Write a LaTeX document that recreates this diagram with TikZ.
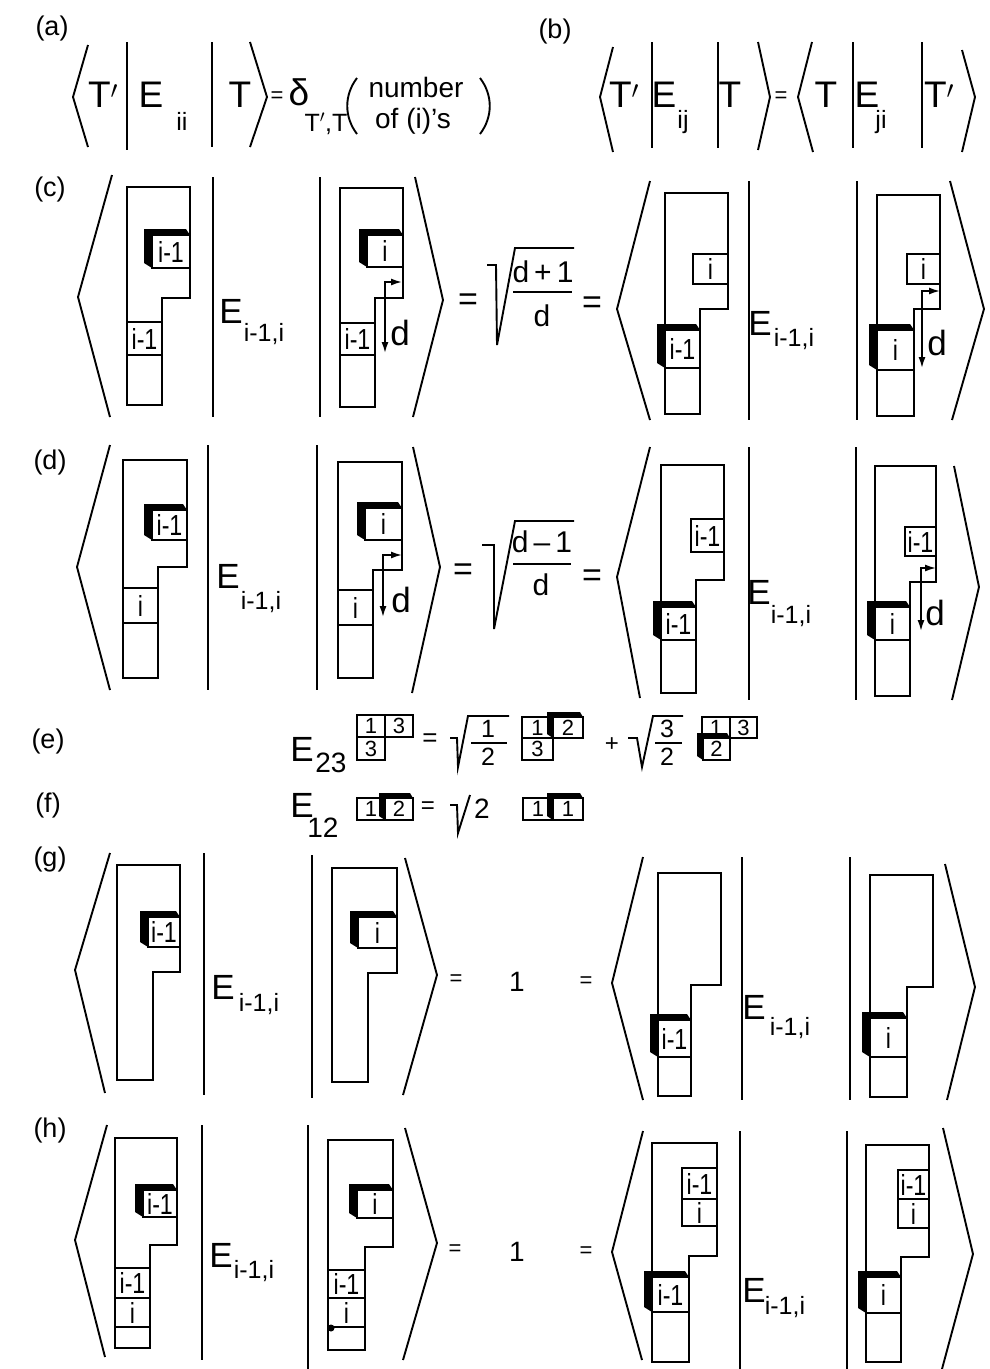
\documentclass[tikz,border=0pt]{standalone}
\usepackage{fontspec}
\setmainfont{Liberation Sans}
\newfontfamily\narrowfont{Liberation Sans}[FakeStretch=0.8]
\usetikzlibrary{arrows.meta}
\newcommand{\FSz}[1]{\fontsize{#1}{#1}\selectfont}
\tikzset{
  tx/.style={inner sep=0pt, outer sep=0pt, anchor=center},
  big/.style={tx, font=\FSz{37}},
  mid/.style={tx, font=\FSz{35}},
  frac/.style={tx, font=\FSz{30}},
  sub/.style={tx, font=\FSz{25}},
  cell/.style={tx, font=\narrowfont\FSz{29}},
  cellE/.style={tx, font=\FSz{22}},
  lbl/.style={tx, font=\FSz{27}},
  eqs/.style={tx, font=\FSz{34}},
  eqsm/.style={tx, font=\FSz{22}},
  tab/.style={line width=1.8pt, line join=miter},
  ang/.style={line width=1.9pt},
  barl/.style={line width=2.1pt},
  rad/.style={line width=1.9pt, line join=miter},
  arr/.style={line width=1.6pt, {Latex[length=11pt,width=7pt]}-{Latex[length=11pt,width=7pt]}}
}
% highlighted (raised) cell: name, L, T, R, B, text
\newcommand{\HL}[6]{%
  \fill[black] (#2,#5) -- (#2-8,#5-5) -- (#2-8,#3-6) -- (#4-4,#3-6) -- (#4,#3) -- (#2,#3) -- cycle;
  \draw[tab] (#2,#3) rectangle (#4,#5);
  \node[cell] (#1) at ({(#2+#4)/2},{(#3+#5)/2}) {#6};}
\newcommand{\HLs}[6]{%
  \fill[black] (#2,#5) -- (#2-6,#5-4) -- (#2-6,#3-5) -- (#4-3,#3-5) -- (#4,#3) -- (#2,#3) -- cycle;
  \draw[tab] (#2,#3) rectangle (#4,#5);
  \node[cellE] (#1) at ({(#2+#4)/2},{(#3+#5)/2}) {#6};}
% plain cell: name, L, T, R, B, text, style
\newcommand{\CL}[7]{%
  \draw[tab] (#2,#3) rectangle (#4,#5);
  \node[#7] (#1) at ({(#2+#4)/2},{(#3+#5)/2}) {#6};}
% tableau outline: L, T, R, step y, step x, B
\newcommand{\TAB}[6]{\draw[tab] (#1,#2) -- (#3,#2) -- (#3,#4) -- (#5,#4) -- (#5,#6) -- (#1,#6) -- cycle;}
\begin{document}
\begin{tikzpicture}[x=1pt,y=-1pt]
\fill[white] (0,0) rectangle (990,1369);
\useasboundingbox (0,0) rectangle (990,1369);

% ---------------- (a)
\node[lbl] (la) at (52,29) {(a)};
\draw[ang] (88,45) -- (73,97) -- (88,147);
\node[big] (a1) at (103,95) {T$'$};
\draw[barl] (127,42) -- (127,150);
\node[big] (a2) at (151,95) {E};
\node[sub] (a3) at (182,121) {ii};
\draw[barl] (212,42) -- (212,147);
\node[big] (a4) at (240,95) {T};
\draw[ang] (250,42) -- (267,97) -- (250,147);
\node[eqsm] (a5) at (277,97) {=};
\node[big] (a6) at (299,92) {δ};
\node[sub] (a7) at (326,124) {T$'$,T};
\draw[ang] (357,78) .. controls (344,95) and (344,117) .. (357,134);
\node[tx, font=\FSz{28}] (a8) at (416,87) {number};
\node[tx, font=\FSz{28}] (a9) at (413,121) {of (i)'s};
\draw[ang] (480,78) .. controls (493,95) and (493,117) .. (480,134);

% ---------------- (b)
\node[lbl] (lb) at (555,32) {(b)};
\draw[ang] (613,47) -- (600,97) -- (613,152);
\node[big] (b1) at (624,95) {T$'$};
\draw[barl] (652,42) -- (652,148);
\node[big] (b2) at (664,95) {E};
\node[sub] (b3) at (683,122) {ij};
\draw[barl] (718,42) -- (718,148);
\node[big] (b4) at (730,95) {T};
\draw[ang] (758,42) -- (770,97) -- (758,150);
\node[eqsm] (b5) at (781,97) {=};
\draw[ang] (812,42) -- (798,97) -- (813,152);
\node[big] (b6) at (826,95) {T};
\draw[barl] (853,42) -- (853,148);
\node[big] (b7) at (867,95) {E};
\node[sub] (b8) at (881,122) {ji};
\draw[barl] (922,42) -- (922,148);
\node[big] (b9) at (939,95) {T$'$};
\draw[ang] (962,50) -- (975,97) -- (962,152);

% ---------------- (c)
\node[lbl] (lc) at (50,190) {(c)};
\draw[ang] (112,175) -- (78,297) -- (110,417);
\TAB{127}{187}{190}{298}{162}{405}
\CL{c1}{127}{322}{162}{355}{i-1}{cell}
\HL{c2}{152}{235}{190}{268}{i-1}
\draw[barl] (213,177) -- (213,417);
\node[mid] (c3) at (231,311) {E};
\node[sub] (c4) at (264,334) {i-1,i};
\draw[barl] (320,177) -- (320,417);
\TAB{340}{188}{403}{298}{375}{407}
\CL{c5}{340}{323}{375}{355}{i-1}{cell}
\HL{c6}{367}{235}{403}{267}{i}
\coordinate (c7a) at (402,282);
\coordinate (c7b) at (385,282);
\coordinate (c7c) at (385,353);
\draw[arr] (c7a) -- (c7b) -- (c7c);
\node[mid] (c8) at (400,333) {d};
\draw[ang] (415,177) -- (443,300) -- (413,417);
\node[eqs] (c9) at (468,302) {=};
\draw[rad] (487,265) -- (496,265) -- (497,345) -- (515,248) -- (574,248);
\node[frac] (c10) at (543,272) {d\,+\,1};
\draw[line width=1.8pt] (513,292) -- (572,292);
\node[frac] (c11) at (542,316) {d};
\node[eqs] (c12) at (592,305) {=};
\draw[ang] (650,181) -- (617,309) -- (650,420);
\TAB{665}{193}{728}{309}{700}{414}
\CL{c13}{693}{254}{728}{284}{i}{cell}
\HL{c14}{665}{330}{700}{368}{i-1}
\draw[barl] (749,181) -- (749,420);
\node[mid] (c15) at (760,323) {E};
\node[sub] (c16) at (794,339) {i-1,i};
\draw[barl] (857,181) -- (857,420);
\TAB{877}{195}{940}{309}{914}{416}
\CL{c17}{907}{254}{940}{284}{i}{cell}
\HL{c18}{877}{330}{914}{370}{i}
\coordinate (c19a) at (940,291);
\coordinate (c19b) at (922,291);
\coordinate (c19c) at (922,368);
\draw[arr] (c19a) -- (c19b) -- (c19c);
\node[mid] (c20) at (937,343) {d};
\draw[ang] (950,181) -- (984,309) -- (952,420);

% ---------------- (d)
\node[lbl] (ld) at (50,463) {(d)};
\draw[ang] (110,445) -- (77,567) -- (110,690);
\TAB{123}{460}{187}{567}{158}{678}
\CL{d1}{123}{588}{158}{623}{i}{cell}
\HL{d2}{152}{510}{187}{540}{i-1}
\draw[barl] (208,445) -- (208,690);
\node[mid] (d3) at (228,576) {E};
\node[sub] (d4) at (261,602) {i-1,i};
\draw[barl] (317,445) -- (317,690);
\TAB{338}{462}{402}{570}{373}{678}
\CL{d5}{338}{590}{373}{625}{i}{cell}
\HL{d6}{365}{508}{402}{540}{i}
\coordinate (d7a) at (402,555);
\coordinate (d7b) at (383,555);
\coordinate (d7c) at (383,617);
\draw[arr] (d7a) -- (d7b) -- (d7c);
\node[mid] (d8) at (401,600) {d};
\draw[ang] (413,447) -- (440,567) -- (412,693);
\node[eqs] (d9) at (463,572) {=};
\draw[rad] (482,545) -- (494,545) -- (494,629) -- (515,521) -- (574,521);
\node[frac] (d10) at (542,542) {d\,–\,1};
\draw[line width=1.8pt] (513,564) -- (571,564);
\node[frac] (d11) at (541,585) {d};
\node[eqs] (d12) at (592,578) {=};
\draw[ang] (650,447) -- (617,577) -- (640,698);
\TAB{661}{465}{724}{580}{696}{693}
\CL{d13}{691}{519}{724}{552}{i-1}{cell}
\HL{d14}{661}{607}{696}{640}{i-1}
\draw[barl] (749,447) -- (749,700);
\node[mid] (d15) at (759,592) {E};
\node[sub] (d16) at (791,616) {i-1,i};
\draw[barl] (856,447) -- (856,700);
\TAB{875}{466}{936}{582}{910}{696}
\CL{d17}{905}{527}{936}{556}{i-1}{cell}
\HL{d18}{875}{607}{910}{640}{i}
\coordinate (d19a) at (936,568);
\coordinate (d19b) at (921,568);
\coordinate (d19c) at (921,631);
\draw[arr] (d19a) -- (d19b) -- (d19c);
\node[mid] (d20) at (935,613) {d};
\draw[ang] (954,466) -- (979,587) -- (952,700);

% ---------------- (e)
\node[lbl] (le) at (48,742) {(e)};
\node[mid] (e1) at (302,749) {E};
\node[tx, font=\FSz{28}] (e2) at (331,763) {23};
\CL{e3}{357}{715}{385}{737}{1}{cellE}
\CL{e4}{385}{715}{413}{737}{3}{cellE}
\CL{e5}{357}{737}{385}{760}{3}{cellE}
\node[tx, font=\FSz{26}] (e6) at (430,740) {=};
\draw[rad] (450,738) -- (457,738) -- (458,767) -- (468,716) -- (509,716);
\node[tx, font=\FSz{25}] (e7) at (488,729) {1};
\draw[line width=1.6pt] (471,743) -- (507,743);
\node[tx, font=\FSz{25}] (e8) at (488,757) {2};
\CL{e9}{522}{717}{553}{738}{1}{cellE}
\CL{e10}{522}{738}{553}{760}{3}{cellE}
\HLs{e11}{553}{717}{583}{738}{2}
\node[tx, font=\FSz{24}] (e12) at (612,745) {+};
\draw[rad] (628,738) -- (637,738) -- (642,767) -- (653,716) -- (683,716);
\node[tx, font=\FSz{25}] (e13) at (667,729) {3};
\draw[line width=1.6pt] (655,743) -- (682,743);
\node[tx, font=\FSz{25}] (e14) at (667,757) {2};
\CL{e15}{702}{717}{730}{738}{1}{cellE}
\CL{e16}{730}{717}{757}{738}{3}{cellE}
\HLs{e17}{703}{738}{730}{760}{2}

% ---------------- (f)
\node[lbl] (lf) at (48,806) {(f)};
\node[mid] (f1) at (302,805) {E};
\node[tx, font=\FSz{28}] (f2) at (323,828) {12};
\CL{f3}{357}{798}{385}{820}{1}{cellE}
\HLs{f4}{385}{798}{413}{820}{2}
\node[tx, font=\FSz{24}] (f5) at (428,808) {=};
\draw[rad] (450,805) -- (457,805) -- (458,833) -- (470,795);
\node[tx, font=\FSz{28}] (f6) at (482,809) {2};
\CL{f7}{523}{798}{553}{820}{1}{cellE}
\HLs{f8}{553}{798}{583}{820}{1}

% ---------------- (g)
\node[lbl] (lg) at (50,860) {(g)};
\draw[ang] (110,853) -- (75,970) -- (105,1093);
\TAB{117}{865}{180}{972}{153}{1080}
\HL{g1}{148}{917}{180}{947}{i-1}
\draw[barl] (204,853) -- (204,1095);
\node[mid] (g2) at (223,987) {E};
\node[sub] (g3) at (259,1004) {i-1,i};
\draw[barl] (312,855) -- (312,1098);
\TAB{332}{868}{397}{973}{368}{1082}
\HL{g4}{358}{917}{397}{948}{i}
\draw[ang] (405,858) -- (437,975) -- (403,1095);
\node[eqsm] (g5) at (456,980) {=};
\node[tx, font=\FSz{28}] (g6) at (517,982) {1};
\node[eqsm] (g7) at (586,982) {=};
\draw[ang] (643,857) -- (612,983) -- (643,1100);
\TAB{658}{873}{721}{985}{691}{1096}
\HL{g8}{658}{1020}{691}{1057}{i-1}
\draw[barl] (742,857) -- (742,1100);
\node[mid] (g9) at (754,1007) {E};
\node[sub] (g10) at (790,1028) {i-1,i};
\draw[barl] (850,857) -- (850,1100);
\TAB{870}{875}{933}{987}{907}{1097}
\HL{g11}{870}{1018}{907}{1057}{i}
\draw[ang] (945,864) -- (975,987) -- (947,1100);

% ---------------- (h)
\node[lbl] (lh) at (50,1130) {(h)};
\draw[ang] (107,1125) -- (75,1240) -- (105,1357);
\TAB{115}{1138}{177}{1245}{150}{1348}
\CL{h1}{115}{1268}{150}{1298}{i-1}{cell}
\CL{h2}{115}{1298}{150}{1327}{i}{cell}
\HL{h3}{143}{1190}{177}{1217}{i-1}
\draw[barl] (202,1125) -- (202,1360);
\node[mid] (h4) at (221,1255) {E};
\node[sub] (h5) at (254,1271) {i-1,i};
\draw[barl] (308,1125) -- (308,1369);
\TAB{328}{1140}{393}{1247}{365}{1350}
\CL{h6}{328}{1270}{365}{1298}{i-1}{cell}
\CL{h7}{328}{1298}{365}{1327}{i}{cell}
\fill (331,1328) circle (3.5);
\HL{h8}{357}{1190}{393}{1218}{i}
\draw[ang] (405,1128) -- (437,1243) -- (403,1360);
\node[eqsm] (h9) at (455,1250) {=};
\node[tx, font=\FSz{28}] (h10) at (517,1252) {1};
\node[eqsm] (h11) at (586,1252) {=};
\draw[ang] (643,1131) -- (612,1252) -- (642,1360);
\TAB{652}{1143}{717}{1256}{689}{1362}
\CL{h12}{682}{1168}{717}{1199}{i-1}{cell}
\CL{h13}{682}{1199}{717}{1226}{i}{cell}
\HL{h14}{652}{1277}{689}{1312}{i-1}
\draw[barl] (740,1131) -- (740,1369);
\node[mid] (h15) at (754,1290) {E};
\node[sub] (h16) at (785,1307) {i-1,i};
\draw[barl] (847,1131) -- (847,1369);
\TAB{866}{1145}{929}{1257}{901}{1362}
\CL{h17}{898}{1170}{929}{1199}{i-1}{cell}
\CL{h18}{898}{1199}{929}{1228}{i}{cell}
\HL{h19}{866}{1277}{901}{1313}{i}
\draw[ang] (943,1128) -- (973,1254) -- (942,1369);
\end{tikzpicture}
\end{document}
